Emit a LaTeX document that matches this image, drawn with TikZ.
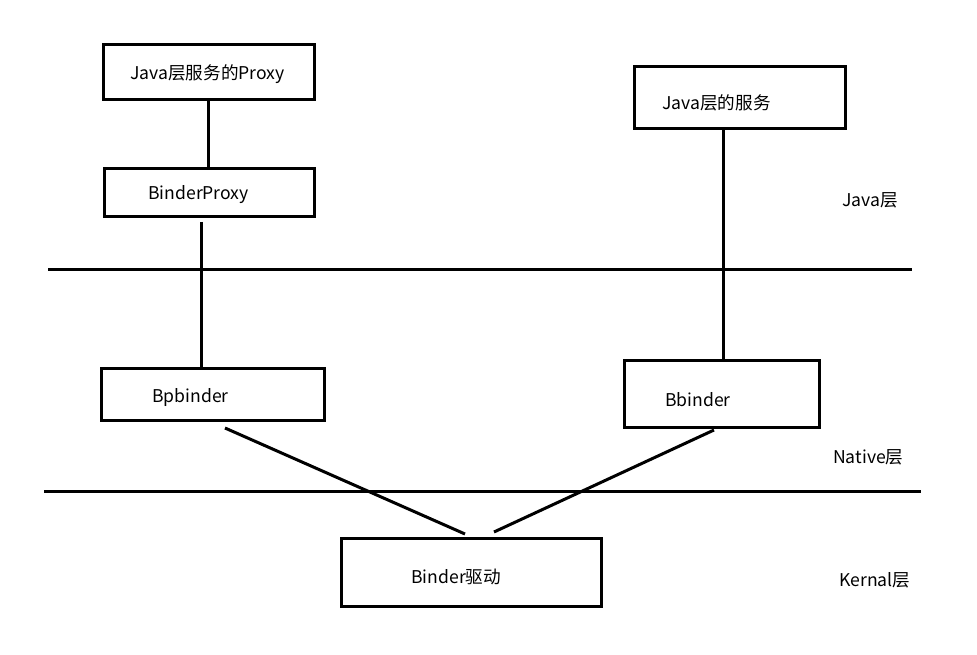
\documentclass[tikz,border=0pt]{standalone}
\usepackage{fontspec}
\setmainfont{Noto Sans CJK SC}
\begin{document}
\begin{tikzpicture}[x=1pt,y=-1pt,
  box/.style={draw,line width=3pt,inner sep=0pt},
  lbl/.style={font=\fontsize{17.6}{20}\selectfont,inner sep=0pt,anchor=west,yshift=-2pt},
  conn/.style={line width=3pt}]
\useasboundingbox (0,0) rectangle (977,655);
% boxes
\node[box,minimum width=211pt,minimum height=55pt] (proxy) at (208.5,72.5) {};
\node[box,minimum width=210pt,minimum height=48pt] (bproxy) at (209,193) {};
\node[box,minimum width=211pt,minimum height=62pt] (jsvc) at (739.5,98) {};
\node[box,minimum width=223pt,minimum height=52pt] (bp) at (212.5,394) {};
\node[box,minimum width=195pt,minimum height=67pt] (bb) at (721.5,393.5) {};
\node[box,minimum width=260pt,minimum height=68pt] (drv) at (471,572) {};
% texts
\node[lbl] (t1) at (130,72) {Java层服务的Proxy};
\node[lbl] (t2) at (148,193) {BinderProxy};
\node[lbl] (t3) at (662,101) {Java层的服务};
\node[lbl] (t4) at (152,396) {Bpbinder};
\node[lbl] (t5) at (665,398) {Bbinder};
\node[lbl] (t6) at (411,575) {Binder驱动};
\node[lbl] (l1) at (842,198) {Java层};
\node[lbl] (l2) at (833,455) {Native层};
\node[lbl] (l3) at (839,578) {Kernal层};
% layer lines
\coordinate (h1a) at (48,269); \coordinate (h1b) at (912,269);
\coordinate (h2a) at (44,491); \coordinate (h2b) at (921,491);
\draw[conn] (h1a) -- (h1b);
\draw[conn] (h2a) -- (h2b);
% connectors
\draw[conn] (proxy.south -| 208,0) -- (bproxy.north -| 208,0);
\coordinate (c1) at (201,222);
\draw[conn] (c1) -- (c1 |- bp.north);
\draw[conn] (jsvc.south -| 723,0) -- (bb.north -| 723,0);
\coordinate (d1) at (225,428); \coordinate (d2) at (465,534);
\coordinate (d3) at (714,430); \coordinate (d4) at (494,532);
\draw[conn] (d1) -- (d2);
\draw[conn] (d3) -- (d4);
\end{tikzpicture}
\end{document}
